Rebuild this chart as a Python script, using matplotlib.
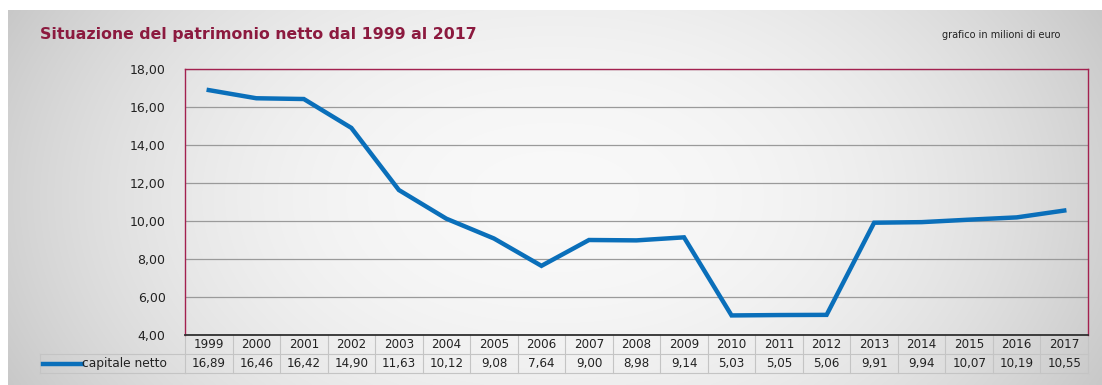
import numpy as np
import matplotlib.pyplot as plt
from matplotlib.ticker import FuncFormatter
from matplotlib.transforms import blended_transform_factory
from matplotlib.lines import Line2D

years = ['1999', '2000', '2001', '2002', '2003', '2004', '2005', '2006', '2007', '2008',
         '2009', '2010', '2011', '2012', '2013', '2014', '2015', '2016', '2017']
capitale = [16.89, 16.46, 16.42, 14.90, 11.63, 10.12, 9.08, 7.64, 9.00, 8.98,
            9.14, 5.03, 5.05, 5.06, 9.91, 9.94, 10.07, 10.19, 10.55]
serie = 'capitale netto'
titolo = 'Situazione del patrimonio netto dal 1999 al 2017'
nota = 'grafico in milioni di euro'

W, H = 1102, 385
fig = plt.figure(figsize=(W / 100, H / 100), dpi=100)

# grey gradient background
bg = fig.add_axes([0, 0, 1, 1], zorder=-10)
bg.set_xlim(0, 1)
bg.set_ylim(0, 1)
bg.axis('off')
gx, gy = np.meshgrid(np.linspace(-1, 1, 500), np.linspace(-1, 1, 200))
g = 0.975 - 0.15 * np.abs(gx) ** 2.2 - 0.04 * np.abs(gy) ** 2
bg.imshow(np.dstack([g, g, g]), extent=[8 / W, 1, 0, 1 - 10 / H],
          aspect='auto', interpolation='bilinear')

ax = fig.add_axes([185 / W, 1 - 335 / H, 903 / W, 266 / H])
ax.patch.set_alpha(0)
x = np.arange(len(years))
ax.plot(x, capitale, color='#0a6fba', lw=3.2, solid_joinstyle='miter', zorder=3)
ax.set_xlim(-0.5, len(years) - 0.5)
ax.set_ylim(4, 18)
ax.set_yticks(np.arange(4, 19, 2))
ax.yaxis.set_major_formatter(FuncFormatter(lambda v, p: f'{v:.2f}'.replace('.', ',')))
ax.set_xticks([])
ax.tick_params(axis='y', length=0, pad=14, labelsize=9, labelcolor='#222222')
ax.grid(axis='y', color='#9a9a9a', lw=0.9)
for s in ['top', 'right', 'left']:
    ax.spines[s].set_color('#a3214f')
    ax.spines[s].set_linewidth(1)
ax.spines['bottom'].set_color('#303030')
ax.spines['bottom'].set_linewidth(1.3)

# data table below the plot
trans = blended_transform_factory(ax.transData, ax.transAxes)
h = 19 / 266
cell = '#c4c4c4'
for i, (yr, v) in enumerate(zip(years, capitale)):
    ax.text(i, -h / 2, yr, transform=trans, ha='center', va='center',
            fontsize=8.6, color='#222222')
    ax.text(i, -1.5 * h, f'{v:.2f}'.replace('.', ','), transform=trans,
            ha='center', va='center', fontsize=8.6, color='#222222')
for i in range(len(years) + 1):
    ax.plot([i - 0.5, i - 0.5], [0, -2 * h], transform=trans, color=cell,
            lw=0.8, clip_on=False)
for yy in [-h, -2 * h]:
    ax.plot([-0.5, len(years) - 0.5], [yy, yy], transform=trans, color=cell,
            lw=0.8, clip_on=False)

# legend cell
y1 = 1 - (335 + 19) / H
y2 = 1 - (335 + 38) / H
fig.add_artist(Line2D([40 / W, 185 / W], [y1, y1], color=cell, lw=0.8))
fig.add_artist(Line2D([40 / W, 185 / W], [y2, y2], color=cell, lw=0.8))
fig.add_artist(Line2D([40 / W, 40 / W], [y1, y2], color=cell, lw=0.8))
ym = (y1 + y2) / 2
fig.add_artist(Line2D([43 / W, 82 / W], [ym, ym], color='#0a6fba', lw=3.2))
fig.text(82 / W, ym, serie, ha='left', va='center', fontsize=8.8, color='#222222')

fig.text(40 / W, 1 - 35 / H, titolo, ha='left', va='center', fontsize=11.3,
         fontweight='bold', color='#8c1a3f')
fig.text(1060 / W, 1 - 35 / H, nota, ha='right', va='center', fontsize=7,
         color='#222222')

fig.savefig('out.png', dpi=100)
